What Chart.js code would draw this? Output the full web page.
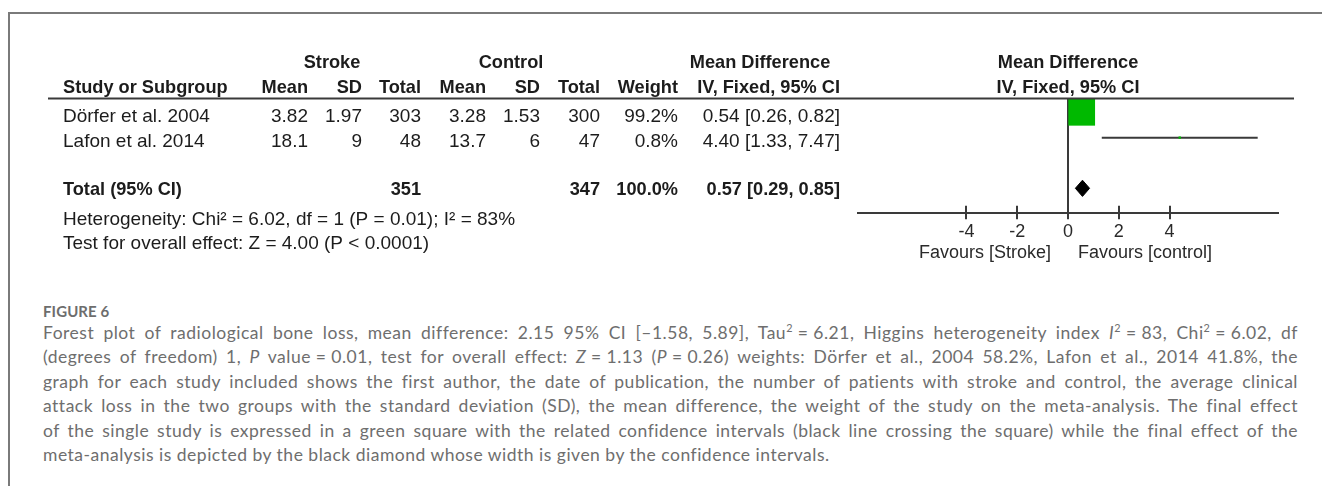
<!DOCTYPE html>
<html><head><meta charset="utf-8">
<script src="https://cdn.jsdelivr.net/npm/chart.js@4.4.1/dist/chart.umd.min.js"></script>
<style>
html,body{margin:0;padding:0;background:#fff;width:1322px;height:486px;overflow:hidden;position:relative;}
#frame{position:absolute;left:8px;top:12px;width:1400px;height:600px;border-top:2px solid #7a7a7a;border-left:2px solid #7a7a7a;}
#chart{position:absolute;left:0;top:0;}
#figlabel{position:absolute;left:43px;top:301px;font-family:Lato,"Open Sans",sans-serif;font-weight:700;font-size:15px;line-height:20px;color:#6d6d6d;letter-spacing:0.1px;}
#caption{position:absolute;left:43px;top:321px;width:1255px;font-family:Lato,"Open Sans",sans-serif;font-weight:400;font-size:17.5px;letter-spacing:0.5px;line-height:24.4px;color:#6e6e6e;}
.ln{text-align:justify;text-align-last:justify;white-space:normal;}
.ln.last{text-align-last:left;}
sup{font-size:0.62em;line-height:0;vertical-align:0.65em;}
</style></head>
<body>
<div id="frame"></div>
<canvas id="chart" width="1322" height="270"></canvas>
<div id="figlabel">FIGURE 6</div>
<div id="caption">
<div class="ln">Forest plot of radiological bone loss, mean difference: 2.15 95% CI [–1.58, 5.89], Tau<sup>2</sup>&#8239;=&#8239;6.21, Higgins heterogeneity index <i>I</i><sup>2</sup>&#8239;=&#8239;83, Chi<sup>2</sup>&#8239;=&#8239;6.02, df</div>
<div class="ln">(degrees of freedom) 1, <i>P</i> value&#8239;=&#8239;0.01, test for overall effect: <i>Z</i>&#8239;=&#8239;1.13 (<i>P</i>&#8239;=&#8239;0.26) weights: Dörfer et al., 2004 58.2%, Lafon et al., 2014 41.8%, the</div>
<div class="ln">graph for each study included shows the first author, the date of publication, the number of patients with stroke and control, the average clinical</div>
<div class="ln">attack loss in the two groups with the standard deviation (SD), the mean difference, the weight of the study on the meta-analysis. The final effect</div>
<div class="ln">of the single study is expressed in a green square with the related confidence intervals (black line crossing the square) while the final effect of the</div>
<div class="ln last">meta-analysis is depicted by the black diamond whose width is given by the confidence intervals.</div>
</div>
<script>
// ---- data ----
const studies = ['Dörfer et al. 2004', 'Lafon et al. 2014'];
const strokeMean = [3.82, 18.1];
const strokeSD = [1.97, 9];
const strokeTotal = [303, 48];
const controlMean = [3.28, 13.7];
const controlSD = [1.53, 6];
const controlTotal = [300, 47];
const weights = [99.2, 0.8];
const meanDiff = [0.54, 4.40];
const ciLow = [0.26, 1.33];
const ciHigh = [0.82, 7.47];
const totalStroke = 351;
const totalControl = 347;
const totalWeight = 100.0;
const totalMD = [0.57];
const totalLow = [0.29];
const totalHigh = [0.85];
const heterogeneityText = 'Heterogeneity: Chi\u00B2 = 6.02, df = 1 (P = 0.01); I\u00B2 = 83%';
const overallText = 'Test for overall effect: Z = 4.00 (P < 0.0001)';
const xTickValues = [-4, -2, 0, 2, 4];
const favourLabels = ['Favours [Stroke]', 'Favours [control]'];
const studyRows = [0, 1];
const totalRow = 3;

// ---- style / layout ----
const X_MIN = -8.27, X_MAX = 8.27;
const Y_MIN = -0.525, Y_MAX = 3.975;
const TXT = '#1c1c1c';
const LINE = '#3a3a3a';
const GREEN = '#00b900';
const F = '"Liberation Sans", Arial, sans-serif';
const col = {name: 63, sMean: 308, sSD: 362, sTot: 421, cMean: 486, cSD: 540, cTot: 600, wt: 678, ci: 840};
const rowBase = [121.8, 146.8];
const totalBase = 195.1, hetBase = 225.1, testBase = 248.6;
const head1 = 68.3, head2 = 93.3;
const maxSide = 26.7;

const fmtCI = (m, l, h) => m.toFixed(2) + ' [' + l.toFixed(2) + ', ' + h.toFixed(2) + ']';

const tablePlugin = {
  id: 'table',
  afterDraw(chart) {
    const ctx = chart.ctx;
    const xs = chart.scales.x;
    const x0 = xs.getPixelForValue(0);
    const mid = (xs.left + xs.right) / 2;
    ctx.save();
    ctx.fillStyle = TXT;
    ctx.textBaseline = 'alphabetic';
    const txt = (s, x, y, align, bold) => {
      ctx.font = bold ? ('bold 18.2px ' + F) : ('19px ' + F);
      ctx.textAlign = align;
      ctx.fillText(s, x, y);
    };
    // header rows
    txt('Stroke', 332, head1, 'center', true);
    txt('Control', 511, head1, 'center', true);
    txt('Mean Difference', 760, head1, 'center', true);
    txt('Mean Difference', mid, head1, 'center', true);
    txt('Study or Subgroup', col.name, head2, 'left', true);
    txt('Mean', col.sMean, head2, 'right', true);
    txt('SD', col.sSD, head2, 'right', true);
    txt('Total', col.sTot, head2, 'right', true);
    txt('Mean', col.cMean, head2, 'right', true);
    txt('SD', col.cSD, head2, 'right', true);
    txt('Total', col.cTot, head2, 'right', true);
    txt('Weight', col.wt, head2, 'right', true);
    txt('IV, Fixed, 95% CI', col.ci, head2, 'right', true);
    txt('IV, Fixed, 95% CI', mid, head2, 'center', true);
    // rule under header
    ctx.strokeStyle = LINE;
    ctx.lineWidth = 2;
    ctx.beginPath();
    ctx.moveTo(48, chart.chartArea.top - 0.5);
    ctx.lineTo(1294, chart.chartArea.top - 0.5);
    ctx.stroke();
    // study rows
    studies.forEach((s, i) => {
      const y = rowBase[i];
      txt(s, col.name, y, 'left', false);
      txt(String(strokeMean[i]), col.sMean, y, 'right', false);
      txt(String(strokeSD[i]), col.sSD, y, 'right', false);
      txt(String(strokeTotal[i]), col.sTot, y, 'right', false);
      txt(String(controlMean[i]), col.cMean, y, 'right', false);
      txt(String(controlSD[i]), col.cSD, y, 'right', false);
      txt(String(controlTotal[i]), col.cTot, y, 'right', false);
      txt(weights[i].toFixed(1) + '%', col.wt, y, 'right', false);
      txt(fmtCI(meanDiff[i], ciLow[i], ciHigh[i]), col.ci, y, 'right', false);
    });
    // total row
    txt('Total (95% CI)', col.name, totalBase, 'left', true);
    txt(String(totalStroke), col.sTot, totalBase, 'right', true);
    txt(String(totalControl), col.cTot, totalBase, 'right', true);
    txt(totalWeight.toFixed(1) + '%', col.wt, totalBase, 'right', true);
    txt(fmtCI(totalMD[0], totalLow[0], totalHigh[0]), col.ci, totalBase, 'right', true);
    txt(heterogeneityText, col.name, hetBase, 'left', false);
    txt(overallText, col.name, testBase, 'left', false);
    // axis tick marks crossing the axis line
    ctx.strokeStyle = LINE;
    ctx.lineWidth = 2;
    xs.ticks.forEach(t => {
      const px = Math.round(xs.getPixelForValue(t.value));
      ctx.beginPath();
      ctx.moveTo(px, 205.7);
      ctx.lineTo(px, 219.3);
      ctx.stroke();
    });
    // favours labels
    ctx.fillStyle = '#2a2a2a';
    ctx.font = '18px ' + F;
    ctx.textAlign = 'right';
    ctx.fillText(favourLabels[0], x0 - 17, 258.3);
    ctx.textAlign = 'left';
    ctx.fillText(favourLabels[1], x0 + 10, 258.3);
    ctx.restore();
  }
};

const datasets = [];
// line of no effect
datasets.push({
  data: [{x: 0, y: Y_MIN}, {x: 0, y: Y_MAX}],
  showLine: true, borderColor: LINE, borderWidth: 2, pointRadius: 0, order: 3, clip: false
});
// confidence intervals
studies.forEach((s, i) => {
  datasets.push({
    data: [{x: ciLow[i], y: studyRows[i]}, {x: ciHigh[i], y: studyRows[i]}],
    showLine: true, borderColor: LINE, borderWidth: 2, pointRadius: 0, order: 2, clip: false
  });
});
// weighted squares
datasets.push({
  data: studies.map((s, i) => ({x: meanDiff[i], y: studyRows[i]})),
  pointStyle: 'rect',
  pointRadius: weights.map(w => (maxSide * Math.sqrt(w / Math.max(...weights))) / (2 * Math.SQRT1_2)),
  backgroundColor: GREEN, borderWidth: 0, order: 1, clip: false
});
// pooled diamond
const dH = 0.32;
datasets.push({
  data: [
    {x: totalLow[0], y: totalRow}, {x: totalMD[0], y: totalRow - dH},
    {x: totalHigh[0], y: totalRow}, {x: totalMD[0], y: totalRow + dH},
    {x: totalLow[0], y: totalRow}
  ],
  showLine: true, fill: 'shape', backgroundColor: '#000', borderColor: '#000', borderWidth: 1,
  pointRadius: 0, tension: 0, order: 0, clip: false
});

new Chart(document.getElementById('chart'), {
  type: 'scatter',
  data: {datasets},
  plugins: [tablePlugin],
  options: {
    responsive: false,
    animation: false,
    devicePixelRatio: 1,
    events: [],
    layout: {padding: {left: 858, right: 44, top: 99, bottom: 0}},
    plugins: {legend: {display: false}, tooltip: {enabled: false}},
    scales: {
      x: {
        type: 'linear', min: X_MIN, max: X_MAX, position: 'bottom',
        afterBuildTicks: s => { s.ticks = xTickValues.map(v => ({value: v})); },
        afterFit: s => { s.height = 57; },
        grid: {display: true, drawOnChartArea: false, drawTicks: false},
        border: {display: true, color: LINE, width: 2},
        ticks: {color: '#2a2a2a', font: {family: F, size: 18}, padding: 8, maxRotation: 0, callback: v => String(v)}
      },
      y: {type: 'linear', reverse: true, min: Y_MIN, max: Y_MAX, display: false}
    }
  }
});
</script>
</body></html>
